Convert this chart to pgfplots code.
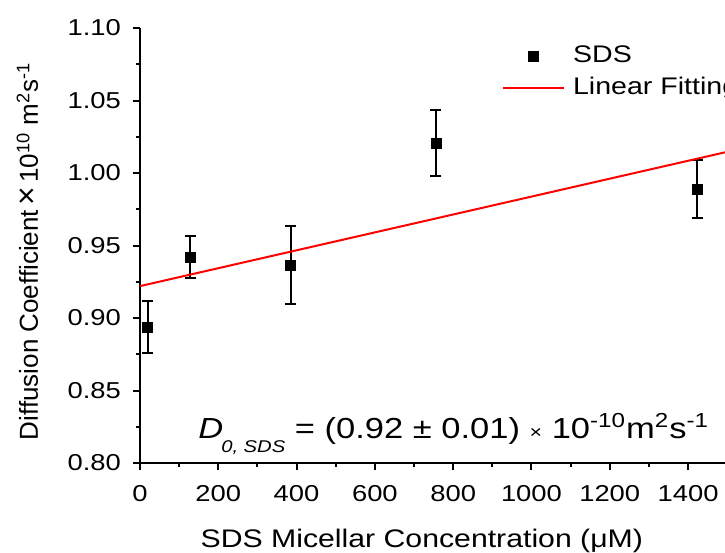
\documentclass[border=0pt]{standalone}
\usepackage{fontspec}
\setmainfont{Liberation Sans}[FakeStretch=1.19]
\newfontfamily\ylfont{Liberation Sans}
\usepackage{graphicx}
\usepackage{pgfplots}
\pgfplotsset{compat=1.18}
\pgfplotsset{redfit/.style={red, line width=1pt, no marks,
  legend image code/.code={\draw[#1] (0pt,0pt) -- (30.5pt,0pt);}},
  sdsmarks/.style={legend image code/.code={\draw[mark repeat=2, mark phase=2, #1] plot coordinates {(0pt,0pt) (15.25pt,0pt) (30.5pt,0pt)};}}}
\begin{document}
\begin{tikzpicture}
\path[use as bounding box, clip] (-70pt,-45pt) rectangle (292.5pt,231.5pt);
\begin{axis}[
  at={(0pt,0pt)}, anchor=south west,
  scale only axis, width=293.6pt, height=217.5pt,
  xmin=0, xmax=1500, ymin=0.80, ymax=1.10,
  axis lines*=left,
  axis line style={line width=1pt},
  xtick={0,200,400,600,800,1000,1200,1400},
  minor xtick={100,300,500,700,900,1100,1300,1500},
  ytick={0.80,0.85,0.90,0.95,1.00,1.05,1.10},
  minor ytick={0.825,0.875,0.925,0.975,1.025,1.075},
  tick align=outside, major tick length=3.5pt, minor tick length=2pt,
  every tick/.style={line width=1pt, black},
  tick label style={font=\fontsize{11.5}{13}\selectfont},
  /pgf/number format/assume math mode=true,
  yticklabel style={/pgf/number format/.cd, fixed, fixed zerofill, precision=2},
  yticklabel shift=2.5pt,
  xticklabel style={/pgf/number format/1000 sep={}},
  xticklabel shift=4pt,
  xlabel={SDS Micellar Concentration (μM)},
  xlabel style={font=\fontsize{12.7}{15}\selectfont, at={(axis description cs:0.48,0)}, anchor=base, yshift=-42pt},
  ylabel={\ylfont\fontsize{13}{15}\selectfont Diffusion Coefficient\,{\fontsize{16}{16}\selectfont ×}\,10\textsuperscript{10} m\textsuperscript{2}s\textsuperscript{-1}},
  ylabel style={at={(axis description cs:-0.1737,0.487)}, anchor=base},
  legend style={draw=none, fill=none, at={(axis cs:925,1.089)}, anchor=north west,
    font=\fontsize{12}{14}\selectfont, inner sep=0pt, outer sep=0pt,
    row sep=3.8pt, column sep=4pt,
    nodes={inner sep=0pt, text height=9.5pt, text depth=2.7pt}},
  legend cell align=left,
]
\addplot[sdsmarks, only marks, mark=square*, mark size=2.5pt, black,
  error bars/.cd, y dir=both, y explicit,
  error bar style={line width=1pt, black},
  error mark options={rotate=90, mark size=2.75pt, line width=1pt, black}]
  coordinates {
  (20,0.8936) +- (0,0.018)
  (128,0.9419) +- (0,0.0145)
  (385,0.9366) +- (0,0.027)
  (756,1.0207) +- (0,0.023)
  (1423,0.9888) +- (0,0.020)
  };
\addlegendentry{SDS}
\addplot[redfit] coordinates {(0,0.922) (1500,1.0146)};
\addlegendentry{Linear Fitting}
\node[anchor=base west, inner sep=0pt, font=\fontsize{14.5}{16}\selectfont] at (axis cs:148,0.8172)
  {\textit{D}\kern-1pt\raisebox{-7pt}{\fontsize{8.5}{10}\selectfont\textit{0, SDS}} = (0.92 ± 0.01) {\fontsize{9}{10}\selectfont ×} 10\textsuperscript{-10}m\textsuperscript{2}s\textsuperscript{-1}};
\end{axis}
\end{tikzpicture}
\end{document}
